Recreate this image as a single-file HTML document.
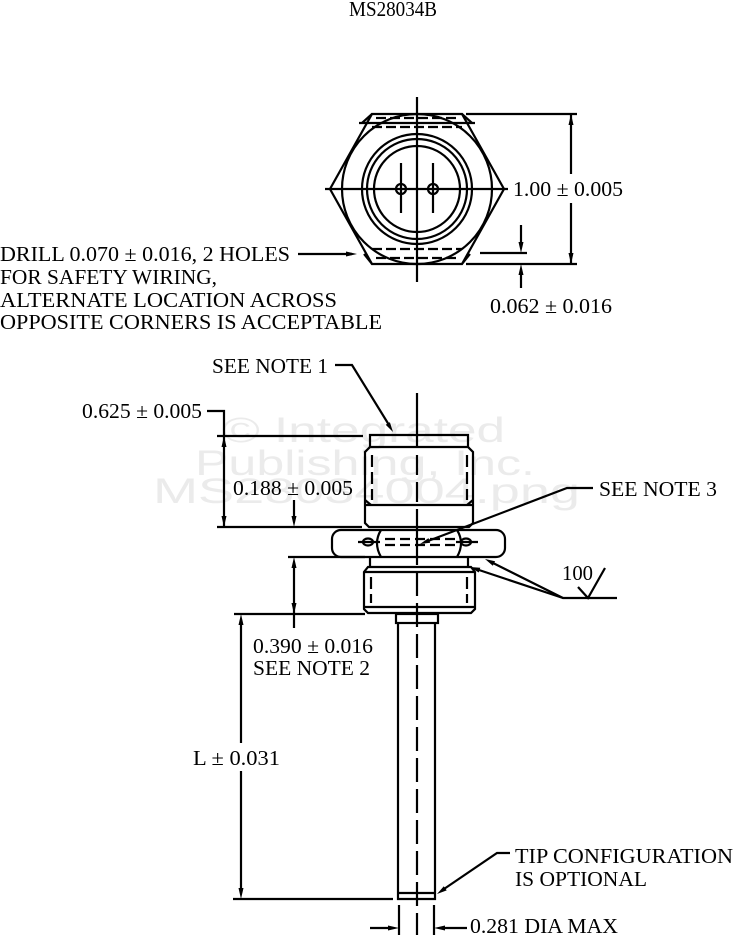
<!DOCTYPE html>
<html><head><meta charset="utf-8"><style>
html,body{margin:0;padding:0;background:#fff;}
svg{display:block;}
text{font-family:"Liberation Serif",serif;fill:#000;}
.wm{font-family:"Liberation Sans",sans-serif;fill:#ebebeb;font-size:35px;}
</style></head><body>
<svg width="734" height="935" viewBox="0 0 734 935" xmlns="http://www.w3.org/2000/svg">
<!-- watermark -->
<text class="wm" x="222" y="442" textLength="283" lengthAdjust="spacingAndGlyphs">© Integrated</text>
<text class="wm" x="195" y="475" textLength="340" lengthAdjust="spacingAndGlyphs">Publishing, Inc.</text>
<text class="wm" x="153" y="503" textLength="427" lengthAdjust="spacingAndGlyphs">MS28034004.png</text>

<!-- title -->
<text x="349" y="16" font-size="21" textLength="88" lengthAdjust="spacingAndGlyphs">MS28034B</text>

<g fill="none" stroke="#000" stroke-width="2.2">
<!-- TOP VIEW -->
<polygon points="372,114 462,114 504,189 462,264 372,264 330,189"/>
<circle cx="417" cy="189" r="75"/>
<circle cx="417" cy="189" r="55"/>
<circle cx="417" cy="189" r="50"/>
<circle cx="417" cy="189" r="43"/>
<circle cx="401" cy="189" r="5"/>
<circle cx="433" cy="189" r="5"/>
<line x1="401" y1="163" x2="401" y2="213"/>
<line x1="433" y1="163" x2="433" y2="213"/>
<line x1="325" y1="189" x2="508" y2="189"/>
<line x1="417" y1="97" x2="417" y2="282"/>
<!-- chamfers top -->
<line x1="359" y1="123" x2="475" y2="123"/>
<line x1="372" y1="114" x2="362" y2="123"/>
<line x1="462" y1="114" x2="472" y2="123"/>
<line x1="376" y1="118" x2="458" y2="118" stroke-dasharray="10,4"/>
<line x1="372" y1="127" x2="462" y2="127" stroke-dasharray="10,4"/>
<!-- chamfers bottom -->
<line x1="372" y1="264" x2="364" y2="254"/>
<line x1="462" y1="264" x2="470" y2="254"/>
<line x1="372" y1="249" x2="462" y2="249" stroke-dasharray="10,4"/>
<line x1="376" y1="258" x2="458" y2="258" stroke-dasharray="10,4"/>
<line x1="298" y1="254" x2="352" y2="254"/>
<line x1="480" y1="253" x2="527" y2="253"/>
<!-- dim 1.00 -->
<line x1="466" y1="114" x2="577" y2="114"/>
<line x1="466" y1="264" x2="577" y2="264"/>
<line x1="571" y1="114" x2="571" y2="174"/>
<line x1="571" y1="203" x2="571" y2="264"/>
<!-- dim 0.062 -->
<line x1="521" y1="225" x2="521" y2="246"/>
<line x1="521" y1="271" x2="521" y2="288"/>

<!-- SIDE VIEW -->
<line x1="417" y1="393" x2="417" y2="448"/>
<line x1="417" y1="455" x2="417" y2="528" stroke-dasharray="20,7"/>
<line x1="417" y1="528" x2="417" y2="565"/>
<line x1="417" y1="572" x2="417" y2="935" stroke-dasharray="24,7"/>
<!-- upper body -->
<polyline points="370,447 370,435 468,435 468,447"/>
<polygon points="370,447 468,447 473,452 473,523 469,527 369,527 365,523 365,452"/>
<line x1="365" y1="505" x2="473" y2="505"/>
<line x1="365" y1="500" x2="371" y2="505"/>
<line x1="473" y1="500" x2="467" y2="505"/>
<line x1="372" y1="455" x2="372" y2="500" stroke-dasharray="12,5"/>
<line x1="467" y1="455" x2="467" y2="500" stroke-dasharray="12,5"/>
<!-- nut -->
<rect x="332" y="530" width="173" height="27" rx="9" ry="9"/>
<path d="M381 530 Q373 543 381 557"/>
<path d="M457 530 Q465 543 457 557"/>
<ellipse cx="368" cy="542" rx="5" ry="3.5"/>
<ellipse cx="466" cy="542" rx="5" ry="3.5"/>
<line x1="358" y1="542" x2="380" y2="542"/>
<line x1="456" y1="542" x2="478" y2="542"/>
<line x1="385" y1="539" x2="455" y2="539" stroke-dasharray="10,5"/>
<line x1="385" y1="545" x2="455" y2="545" stroke-dasharray="10,5"/>
<!-- lower body -->
<line x1="370" y1="557" x2="370" y2="567"/>
<line x1="468" y1="557" x2="468" y2="567"/>
<polygon points="368,567 471,567 475,572 475,609 471,613 368,613 364,609 364,572"/>
<line x1="364" y1="572" x2="475" y2="572"/>
<line x1="364" y1="607" x2="475" y2="607"/>
<line x1="371" y1="577" x2="371" y2="603" stroke-dasharray="12,5"/>
<line x1="467" y1="577" x2="467" y2="603" stroke-dasharray="12,5"/>
<!-- collar & shaft -->
<rect x="396" y="614" width="42" height="9"/>
<polyline points="398,623 398,899 435,899 435,623"/>
<line x1="398" y1="893" x2="435" y2="893"/>

<!-- dimension: 0.625 -->
<polyline points="207,411 224,411 224,527"/>
<line x1="217" y1="436" x2="363" y2="436"/>
<line x1="217" y1="527" x2="362" y2="527"/>
<!-- 0.188 / 0.390 -->
<line x1="294" y1="500" x2="294" y2="520"/>
<line x1="288" y1="557" x2="365" y2="557"/>
<line x1="294" y1="563" x2="294" y2="628"/>
<line x1="234" y1="614" x2="365" y2="614"/>
<!-- L -->
<line x1="241" y1="620" x2="241" y2="743"/>
<line x1="241" y1="771" x2="241" y2="893"/>
<line x1="233" y1="899" x2="393" y2="899"/>
<!-- dia -->
<line x1="399" y1="905" x2="399" y2="935"/>
<line x1="434" y1="905" x2="434" y2="935"/>
<line x1="370" y1="928" x2="392" y2="928"/>
<line x1="441" y1="928" x2="467" y2="928"/>
<!-- leaders -->
<polyline points="335,365 352,365 389,425"/>
<polyline points="593,488 567,488 428,541"/>
<polyline points="617,598 563,598 493,563"/>
<line x1="563" y1="598" x2="479" y2="570"/>
<polyline points="578,587 588,598 605,568"/>
<polyline points="510,853 497,853 444,889"/>
</g>

<!-- arrowheads -->
<g fill="#000" stroke="none">
<polygon points="357,254 346,251.5 346,256.5"/>
<polygon points="571,114 568.5,125 573.5,125"/>
<polygon points="571,264 568.5,253 573.5,253"/>
<polygon points="521,253 518.5,242 523.5,242"/>
<polygon points="521,264 518.5,275 523.5,275"/>
<polygon points="224,436 221.5,447 226.5,447"/>
<polygon points="224,527 221.5,516 226.5,516"/>
<polygon points="294,527 291.5,516 296.5,516"/>
<polygon points="294,557 291.5,568 296.5,568"/>
<polygon points="294,614 291.5,603 296.5,603"/>
<polygon points="241,614 238.5,625 243.5,625"/>
<polygon points="241,899 238.5,888 243.5,888"/>
<polygon points="399,928 388,925.5 388,930.5"/>
<polygon points="434,928 445,925.5 445,930.5"/>
<polygon points="393,432 385.7,424.8 389.9,422.2"/>
<polygon points="420,544 428.5,538.1 430.2,542.8"/>
<polygon points="485,559 495.1,561.2 492.8,565.7"/>
<polygon points="470,567 480.3,567.8 478.7,572.5"/>
<polygon points="437,894 443.8,886.3 446.7,890.4"/>
</g>

<!-- labels -->
<g font-size="21">
<text x="513" y="196" textLength="110" lengthAdjust="spacingAndGlyphs">1.00 ± 0.005</text>
<text x="490" y="313" textLength="122" lengthAdjust="spacingAndGlyphs">0.062 ± 0.016</text>
<text x="0" y="261" textLength="290" lengthAdjust="spacingAndGlyphs">DRILL 0.070 ± 0.016, 2 HOLES</text>
<text x="0" y="284" textLength="217" lengthAdjust="spacingAndGlyphs">FOR SAFETY WIRING,</text>
<text x="0" y="307" textLength="337" lengthAdjust="spacingAndGlyphs">ALTERNATE LOCATION ACROSS</text>
<text x="0" y="329" textLength="382" lengthAdjust="spacingAndGlyphs">OPPOSITE CORNERS IS ACCEPTABLE</text>
<text x="212" y="373" textLength="116" lengthAdjust="spacingAndGlyphs">SEE NOTE 1</text>
<text x="82" y="418" textLength="120" lengthAdjust="spacingAndGlyphs">0.625 ± 0.005</text>
<text x="233" y="495" textLength="120" lengthAdjust="spacingAndGlyphs">0.188 ± 0.005</text>
<text x="599" y="496" textLength="118" lengthAdjust="spacingAndGlyphs">SEE NOTE 3</text>
<text x="562" y="580" textLength="31" lengthAdjust="spacingAndGlyphs">100</text>
<text x="253" y="653" textLength="120" lengthAdjust="spacingAndGlyphs">0.390 ± 0.016</text>
<text x="253" y="675" textLength="117" lengthAdjust="spacingAndGlyphs">SEE NOTE 2</text>
<text x="193" y="765" textLength="87" lengthAdjust="spacingAndGlyphs">L ± 0.031</text>
<text x="515" y="863" textLength="218" lengthAdjust="spacingAndGlyphs">TIP CONFIGURATION</text>
<text x="515" y="886" textLength="132" lengthAdjust="spacingAndGlyphs">IS OPTIONAL</text>
<text x="470" y="933" textLength="148" lengthAdjust="spacingAndGlyphs">0.281 DIA MAX</text>
</g>
</svg>
</body></html>
